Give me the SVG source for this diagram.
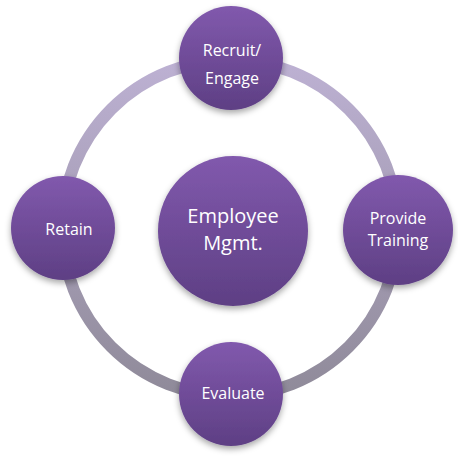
<svg xmlns="http://www.w3.org/2000/svg" width="458" height="458" viewBox="0 0 458 458">
<defs>
<linearGradient id="ring" x1="0" y1="0" x2="0" y2="1">
<stop offset="0" stop-color="#bdb1d3"/>
<stop offset="1" stop-color="#8f8a99"/>
</linearGradient>
<linearGradient id="node" x1="0" y1="0" x2="0" y2="1">
<stop offset="0" stop-color="#8159ad"/>
<stop offset="1" stop-color="#5e3f84"/>
</linearGradient>
<filter id="sh" x="-30%" y="-30%" width="160%" height="170%">
<feDropShadow dx="0" dy="3" stdDeviation="3" flood-color="#000" flood-opacity="0.35"/>
</filter>
<style>
.n{fill:url(#node);filter:url(#sh)}
.t{fill:#fff;font-family:"Open Sans","Noto Sans",sans-serif;font-size:16px;text-anchor:middle}
.c{font-size:20px}
</style>
</defs>
<g id="connectors">
<circle cx="230" cy="228" r="168" fill="none" stroke="url(#ring)" stroke-width="12"/>
</g>
<g id="center">
<circle class="n" cx="233" cy="231" r="75"/>
<text class="t c" x="233" y="223">Employee</text>
<text class="t c" x="233" y="250">Mgmt.</text>
</g>
<g id="recruit">
<circle class="n" cx="231" cy="58" r="52"/>
<text class="t" x="232" y="56">Recruit/</text>
<text class="t" x="232" y="84">Engage</text>
</g>
<g id="training">
<circle class="n" cx="398" cy="230" r="55"/>
<text class="t" x="398" y="224">Provide</text>
<text class="t" x="398" y="246">Training</text>
</g>
<g id="evaluate">
<circle class="n" cx="231" cy="394" r="52"/>
<text class="t" x="233" y="399">Evaluate</text>
</g>
<g id="retain">
<circle class="n" cx="63" cy="228" r="52"/>
<text class="t" x="69" y="235">Retain</text>
</g>
</svg>
